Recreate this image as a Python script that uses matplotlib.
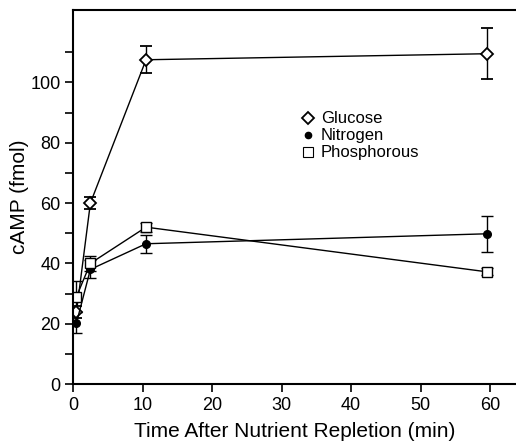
import matplotlib
matplotlib.use("Agg")
import matplotlib.pyplot as plt
from matplotlib.ticker import FixedLocator, MultipleLocator
from matplotlib.lines import Line2D

plt.rcParams['font.family'] = ['Liberation Sans', 'DejaVu Sans']

# time points (min)
time = [0.5, 2.5, 10.5, 59.5]

glucose = [24, 60, 107.5, 109.5]
glucose_err = [2, 2, 4.5, 8.5]

nitrogen = [20.3, 38, 46.5, 49.8]
nitrogen_err = [3.5, 3, 3, 6]

phosph = [29, 40, 52, 37.2]
phosph_err = [5, 2.5, 1.5, 1.2]

y_major = [0, 20, 40, 60, 80, 100]
y_minor = [10, 30, 50, 70, 90, 110]

fig = plt.figure(figsize=(5.16, 4.46), dpi=100)
ax = fig.add_axes([0.1415, 0.139, 0.8585, 0.8386])

ax.errorbar(time, glucose, yerr=glucose_err, color='black', marker='D', ms=6.5,
            mfc='white', mec='black', mew=1.3, lw=1, capsize=4, elinewidth=1)
ax.errorbar(time, nitrogen, yerr=nitrogen_err, color='black', marker='o', ms=5.5,
            mfc='black', mec='black', lw=1, capsize=4, elinewidth=1)
ax.errorbar(time, phosph, yerr=phosph_err, color='black', marker='s', ms=6.5,
            mfc='white', mec='black', mew=1, lw=1, capsize=4, elinewidth=1)

ax.set_xlim(0, 63.7)
ax.set_ylim(0, 124)
ax.xaxis.set_major_locator(MultipleLocator(10))
ax.yaxis.set_major_locator(FixedLocator(y_major))
ax.yaxis.set_minor_locator(FixedLocator(y_minor))

ax.spines['right'].set_visible(False)
for s in ['left', 'bottom', 'top']:
    ax.spines[s].set_linewidth(1.5)

ax.tick_params(axis='both', which='both', direction='out', width=1.2, labelsize=13)
ax.tick_params(axis='both', which='major', length=5.5)
ax.tick_params(axis='y', which='minor', length=5.5)

ax.set_xlabel('Time After Nutrient Repletion (min)', fontsize=15, labelpad=6)
ax.set_ylabel('cAMP (fmol)', fontsize=15, labelpad=1)

handles = [
    Line2D([], [], ls='none', marker='D', ms=6, mfc='white', mec='black', mew=1.3),
    Line2D([], [], ls='none', marker='o', ms=4.5, mfc='black', mec='black'),
    Line2D([], [], ls='none', marker='s', ms=6.5, mfc='white', mec='black', mew=0.8),
]
ax.legend(handles, ['Glucose', 'Nitrogen', 'Phosphorous'], loc='upper left',
          bbox_to_anchor=(0.49, 0.76), frameon=False, fontsize=12,
          handlelength=0.8, handletextpad=0.35, labelspacing=0.12,
          borderpad=0.2)

fig.savefig('out.png', dpi=100)
